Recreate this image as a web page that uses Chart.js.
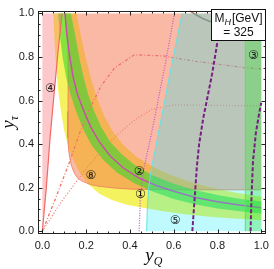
<!DOCTYPE html>
<html>
<head>
<meta charset="utf-8">
<script src="https://cdn.jsdelivr.net/npm/chart.js@4.4.0/dist/chart.umd.min.js"></script>
<style>
  html, body { margin: 0; padding: 0; background: #fff; }
</style>
</head>
<body>
<canvas id="chart" width="274" height="269"></canvas>
<script>
// axis ticks
const xTicks = [0, 0.2, 0.4, 0.6, 0.8, 1.0];
const yTicks = [0, 0.2, 0.4, 0.6, 0.8, 1.0];
const minorTicks = [0.05, 0.1, 0.15, 0.25, 0.3, 0.35, 0.45, 0.5, 0.55, 0.65, 0.7, 0.75, 0.85, 0.9, 0.95];

// central (magenta) curve
const centerCurve = [[0.103,1.0],[0.112,0.9],[0.125,0.8],[0.14,0.71],[0.16,0.63],[0.19,0.55],[0.22,0.48],[0.26,0.41],
  [0.31,0.345],[0.37,0.29],[0.44,0.245],[0.52,0.21],[0.6,0.183],[0.7,0.155],[0.8,0.135],[0.9,0.12],[1.0,0.108]];

// inner band (green)
const greenLow = [[0.072,1.0],[0.08,0.9],[0.092,0.8],[0.108,0.71],[0.128,0.63],[0.152,0.555],[0.185,0.47],[0.225,0.395],
  [0.275,0.33],[0.34,0.27],[0.42,0.22],[0.5,0.183],[0.6,0.148],[0.7,0.122],[0.8,0.104],[0.9,0.091],[1.0,0.081]];
const greenHigh = [[0.13,1.0],[0.15,0.9],[0.168,0.8],[0.187,0.71],[0.21,0.625],[0.237,0.55],[0.268,0.48],[0.31,0.41],
  [0.36,0.355],[0.42,0.305],[0.5,0.258],[0.6,0.218],[0.7,0.188],[0.8,0.166],[0.9,0.149],[1.0,0.136]];

// outer band (yellow)
const yellowLow = [[0.05,1.0],[0.055,0.88],[0.062,0.76],[0.072,0.65],[0.085,0.55],[0.1,0.46],[0.118,0.39],[0.14,0.33],
  [0.17,0.27],[0.21,0.215],[0.26,0.172],[0.32,0.142],[0.39,0.12],[0.46,0.107],[0.55,0.092],[0.65,0.078],[0.75,0.067],
  [0.87,0.058],[1.0,0.051]];
const yellowHigh = [[0.156,1.0],[0.175,0.9],[0.197,0.8],[0.222,0.7],[0.25,0.61],[0.282,0.53],[0.32,0.46],[0.37,0.395],
  [0.43,0.342],[0.5,0.298],[0.58,0.26],[0.67,0.228],[0.77,0.2],[0.88,0.178],[1.0,0.158]];

// region 8 (salmon) lower-left edge
const salmonEdge = [[0.103,1.0],[0.112,0.93],[0.117,0.86],[0.118,0.7],[0.117,0.55],[0.116,0.43],[0.12,0.37],[0.125,0.34],
  [0.133,0.3],[0.147,0.265],[0.162,0.243],[0.183,0.229],[0.22,0.214],[0.259,0.206],[0.33,0.198],[0.406,0.193],
  [0.6,0.19],[1.0,0.19]];

// region 4 (pink) edge
const redLine = [[0,0],[0.018,0.2],[0.036,0.44],[0.047,0.56],[0.058,0.68],[0.072,0.83],[0.09,1.0]];

// region 5 (cyan) edge
const cyanEdge = [[0.476,0],[0.48,0.12],[0.488,0.22],[0.5,0.3],[0.515,0.37],[0.53,0.45],[0.555,0.58],[0.58,0.71],
  [0.61,0.86],[0.638,1.0]];

// region 3 (green strip)
const stripLeft = 0.927;

// contour lines
const dotA = [[0,0],[0.06,0.15],[0.125,0.32],[0.17,0.45],[0.22,0.57],[0.27,0.67],[0.33,0.75],[0.42,0.81],[0.55,0.805],
  [0.7,0.78],[0.93,0.75],[1.0,0.745]];
const dotB = [[0,0],[0.045,0.07],[0.09,0.14],[0.15,0.22],[0.21,0.3],[0.28,0.38],[0.35,0.45],[0.42,0.51],[0.5,0.56],
  [0.6,0.58],[0.8,0.578],[1.0,0.575]];
const topArc = [[0.672,1.013],[0.7,0.995],[0.73,0.978],[0.76,0.965],[0.8,0.955]];
const purpleDot = [[0.442,0],[0.447,0.14],[0.46,0.27],[0.49,0.41],[0.515,0.53],[0.54,0.66],[0.56,0.76],[0.58,0.87],[0.603,1.0]];
const dash1 = [[0.685,0],[0.692,0.1],[0.699,0.2],[0.706,0.3],[0.716,0.4],[0.735,0.52],[0.755,0.62],[0.775,0.72],
  [0.795,0.84],[0.81,0.95]];
const dash2 = [[0.951,0],[0.955,0.15],[0.962,0.32],[0.975,0.45],[0.99,0.54],[1.0,0.59]];

// circled region labels
const regionLabels = [
  {text: '\u2463', x: 0.036, y: 0.655},
  {text: '\u2462', x: 0.964, y: 0.803},
  {text: '\u2467', x: 0.222, y: 0.256},
  {text: '\u2461', x: 0.442, y: 0.274},
  {text: '\u2460', x: 0.448, y: 0.165},
  {text: '\u2464', x: 0.606, y: 0.049}
];
const massLabel = '325';

const toXY = pts => pts.map(([x, y]) => ({x, y}));
const rev = pts => pts.slice().reverse();

function area(pts, color, order) {
  return {data: toXY(pts), backgroundColor: color, borderColor: 'transparent', borderWidth: 0,
    fill: 'shape', pointRadius: 0, tension: 0, order};
}
function curve(pts, color, width, dash, order) {
  return {data: toXY(pts), borderColor: color, borderWidth: width, borderDash: dash || [],
    fill: false, pointRadius: 0, tension: 0, order};
}

const datasets = [
  area(yellowLow.concat(rev(yellowHigh)), 'rgb(245,242,95)', 20),
  area(salmonEdge.concat([[1.0, 1.0]]), 'rgba(245,115,75,0.5)', 19),
  curve(salmonEdge, 'rgba(238,130,95,0.9)', 1, null, 18),
  area(greenLow.concat(rev(greenHigh)), 'rgba(40,215,40,0.55)', 17),
  area([[0, 0], [0, 1]].concat(rev(redLine)), 'rgba(250,110,115,0.38)', 16),
  curve(redLine, 'rgb(240,105,105)', 1.2, null, 15),
  curve(dotA, 'rgb(240,115,105)', 1.3, [3, 2, 1, 2], 14),
  curve(dotB, 'rgb(240,130,120)', 1.3, [1, 2], 13),
  curve(topArc, 'rgb(175,120,100)', 1.5, null, 12),
  curve(centerCurve, 'rgb(200,80,170)', 1.5, null, 11),
  area(cyanEdge.concat([[1, 1], [1, 0]]), 'rgba(0,240,250,0.25)', 10),
  curve(cyanEdge, 'rgb(100,225,230)', 1, null, 9),
  area([[stripLeft, 0], [stripLeft, 1], [1, 1], [1, 0]], 'rgba(30,225,30,0.3)', 8),
  curve([[stripLeft, 0], [stripLeft, 1]], 'rgb(90,228,90)', 1, null, 7),
  curve(purpleDot, 'rgb(200,90,200)', 1.3, [1, 1.5], 6),
  curve(dash1, 'rgb(120,30,130)', 2, [4, 2], 5),
  curve(dash2, 'rgb(120,30,130)', 2, [4, 2], 4)
];

const overlay = {
  id: 'overlay',
  afterDatasetsDraw(chart) {
    const {ctx, chartArea: a, scales: {x, y}} = chart;
    ctx.save();
    // frame with inward ticks
    ctx.strokeStyle = '#222';
    ctx.lineWidth = 1;
    const L = Math.round(a.left) + 0.5, R = Math.round(a.right) - 0.5;
    const T = Math.round(a.top) + 0.5, B = Math.round(a.bottom) - 0.5;
    ctx.strokeRect(L, T, R - L, B - T);
    ctx.beginPath();
    const tick = (v, len) => {
      const px = Math.round(x.getPixelForValue(v)) + 0.5;
      ctx.moveTo(px, B); ctx.lineTo(px, B - len);
      ctx.moveTo(px, T); ctx.lineTo(px, T + len);
      const py = Math.round(y.getPixelForValue(v)) + 0.5;
      ctx.moveTo(L, py); ctx.lineTo(L + len, py);
      ctx.moveTo(R, py); ctx.lineTo(R - len, py);
    };
    xTicks.forEach(v => tick(v, 4));
    minorTicks.forEach(v => tick(v, 2));
    ctx.stroke();

    // circled region numbers
    ctx.fillStyle = '#111';
    ctx.font = '12px "DejaVu Sans", "Noto Sans CJK JP"';
    ctx.textAlign = 'center';
    ctx.textBaseline = 'middle';
    regionLabels.forEach(l => ctx.fillText(l.text, x.getPixelForValue(l.x), y.getPixelForValue(l.y)));

    // mass box
    const bx = 211, by = 9, bw = 55, bh = 32;
    ctx.fillStyle = '#fff';
    ctx.fillRect(bx, by, bw, bh);
    ctx.strokeStyle = '#111';
    ctx.strokeRect(bx + 0.5, by + 0.5, bw - 1, bh - 1);
    ctx.fillStyle = '#111';
    ctx.textAlign = 'left';
    ctx.textBaseline = 'alphabetic';
    ctx.font = '12px "Liberation Sans"';
    const mW = ctx.measureText('M').width;
    ctx.font = 'italic 9px "Liberation Sans"';
    const hW = ctx.measureText('H').width;
    ctx.font = '12px "Liberation Sans"';
    const gW = ctx.measureText('[GeV]').width;
    let sx = bx + bw / 2 - (mW + hW + 1 + gW) / 2;
    ctx.fillText('M', sx, by + 13);
    ctx.font = 'italic 9px "Liberation Sans"';
    ctx.fillText('H', sx + mW, by + 16);
    ctx.font = '12px "Liberation Sans"';
    ctx.fillText('[GeV]', sx + mW + hW + 1, by + 13);
    ctx.textAlign = 'center';
    ctx.fillText('= ' + massLabel, bx + bw / 2, by + 27);
    ctx.restore();
  },
  afterDraw(chart) {
    const {ctx, chartArea: a} = chart;
    ctx.save();
    ctx.fillStyle = '#111';
    ctx.textBaseline = 'alphabetic';
    ctx.textAlign = 'left';
    // x title: y_Q
    ctx.font = 'italic 19px "Liberation Serif"';
    const yW = ctx.measureText('y').width;
    ctx.font = 'italic 12px "Liberation Serif"';
    const qW = ctx.measureText('Q').width;
    const cx = (a.left + a.right) / 2 + 2;
    let sx = cx - (yW + qW) / 2;
    ctx.font = 'italic 19px "Liberation Serif"';
    ctx.fillText('y', sx, 261);
    ctx.font = 'italic 12px "Liberation Serif"';
    ctx.fillText('Q', sx + yW, 265);
    // y title: y_tau
    ctx.translate(14, (a.top + a.bottom) / 2);
    ctx.rotate(-Math.PI / 2);
    ctx.font = 'italic 12px "Liberation Serif"';
    const tW = ctx.measureText('\u03c4').width;
    sx = -(yW + tW) / 2;
    ctx.font = 'italic 19px "Liberation Serif"';
    ctx.fillText('y', sx, 0);
    ctx.font = 'italic 12px "Liberation Serif"';
    ctx.fillText('\u03c4', sx + yW, 4);
    ctx.restore();
  }
};

new Chart(document.getElementById('chart').getContext('2d'), {
  type: 'line',
  data: {datasets},
  options: {
    responsive: false,
    animation: false,
    devicePixelRatio: 1,
    events: [],
    layout: {padding: {top: 5, right: 3, left: 0, bottom: 0}},
    plugins: {legend: {display: false}, tooltip: {enabled: false}},
    scales: {
      x: {
        type: 'linear', min: -0.02, max: 1.02,
        afterBuildTicks: s => { s.ticks = xTicks.map(v => ({value: v})); },
        afterFit: s => { s.height = 35; },
        grid: {display: false, drawTicks: false},
        border: {display: false},
        ticks: {padding: 5, color: '#1a1a1a', font: {family: 'Liberation Sans', size: 11},
          callback: v => v.toFixed(1), maxRotation: 0}
      },
      y: {
        type: 'linear', min: -0.013, max: 1.013,
        afterBuildTicks: s => { s.ticks = yTicks.map(v => ({value: v})); },
        afterFit: s => { s.width = 38; },
        grid: {display: false, drawTicks: false},
        border: {display: false},
        ticks: {padding: 4, color: '#1a1a1a', font: {family: 'Liberation Sans', size: 11},
          callback: v => v.toFixed(1)}
      }
    }
  },
  plugins: [overlay]
});
</script>
</body>
</html>
